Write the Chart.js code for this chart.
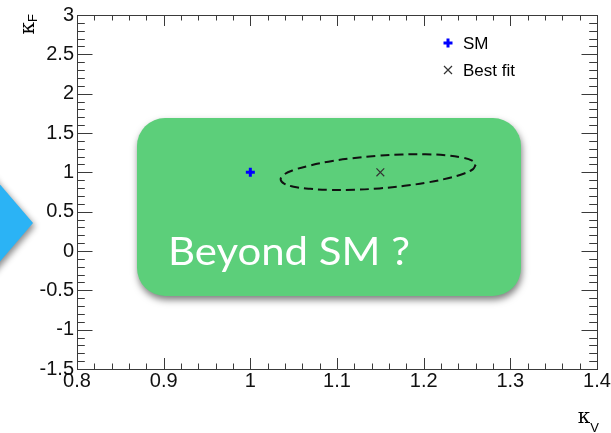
<!DOCTYPE html>
<html><head><meta charset="utf-8">
<script src="https://cdn.jsdelivr.net/npm/chart.js@4"></script>
<style>html,body{margin:0;padding:0;background:#fff;}canvas{display:block}</style>
</head><body>
<canvas id="c" width="611" height="433"></canvas>
<script>
// ---- data ----
const xTicks = [0.8, 0.9, 1.0, 1.1, 1.2, 1.3, 1.4];
const yTicks = [-1.5, -1, -0.5, 0, 0.5, 1, 1.5, 2, 2.5, 3];
const xMinorStep = 0.02;
const yMinorStep = 0.1;
const smX = [1.0];
const smY = [1.0];
const bestX = [1.15];
const bestY = [1.0];
const contourX = [1.260,1.257,1.246,1.228,1.205,1.178,1.149,1.120,1.092,1.069,1.050,1.039,1.035,1.038,1.049,1.067,1.090,1.117,1.146,1.175,1.202,1.226,1.244,1.256,1.260];
const contourY = [1.098,1.041,0.982,0.925,0.872,0.829,0.796,0.779,0.777,0.790,0.817,0.858,0.908,0.965,1.025,1.082,1.135,1.178,1.210,1.227,1.229,1.217,1.189,1.149,1.098];
const legendLabels = ['SM', 'Best fit'];
const xTitle = ['κ', 'V'];
const yTitle = ['κ', 'F'];
const boxText = 'Beyond SM ?';

const zip = (xs, ys) => xs.map((x, i) => ({x: x, y: ys[i]}));
const fmt = v => String(Math.round(v * 1000) / 1000);
const AX = '#3a3a3a';
const LAB = '"Liberation Sans", Arial, sans-serif';

const decor = {
  id: 'decor',
  beforeDraw(chart) {
    const ctx = chart.ctx;
    ctx.save();
    ctx.fillStyle = '#fff';
    ctx.fillRect(0, 0, chart.width, chart.height);
    // blue arrow at left edge
    ctx.shadowColor = 'rgba(0,0,0,0.45)';
    ctx.shadowBlur = 6; ctx.shadowOffsetX = 2; ctx.shadowOffsetY = 3;
    ctx.fillStyle = '#2bb3f5';
    ctx.beginPath();
    ctx.moveTo(-20, 161); ctx.lineTo(33, 223); ctx.lineTo(-20, 285);
    ctx.closePath(); ctx.fill();
    ctx.restore();
  },
  beforeDatasetsDraw(chart) {
    const ctx = chart.ctx, xs = chart.scales.x, ys = chart.scales.y;
    const a = chart.chartArea;
    ctx.save();
    ctx.strokeStyle = AX; ctx.lineWidth = 1;
    ctx.beginPath();
    const xSpan = xTicks[xTicks.length - 1] - xTicks[0];
    const nx = Math.round(xSpan / xMinorStep);
    for (let i = 0; i <= nx; i++) {
      const v = xTicks[0] + i * xMinorStep;
      const major = i % 5 === 0;
      const L = major ? 11 : 5.5;
      const px = Math.round(xs.getPixelForValue(v)) + 0.5;
      ctx.moveTo(px, a.bottom); ctx.lineTo(px, a.bottom - L);
      ctx.moveTo(px, a.top); ctx.lineTo(px, a.top + L);
    }
    const ySpan = yTicks[yTicks.length - 1] - yTicks[0];
    const ny = Math.round(ySpan / yMinorStep);
    for (let i = 0; i <= ny; i++) {
      const v = yTicks[0] + i * yMinorStep;
      const major = i % 5 === 0;
      const L = major ? 15.5 : 7.8;
      const py = Math.round(ys.getPixelForValue(v)) + 0.5;
      ctx.moveTo(a.left, py); ctx.lineTo(a.left + L, py);
      ctx.moveTo(a.right, py); ctx.lineTo(a.right - L, py);
    }
    ctx.stroke();
    ctx.restore();

    // green overlay box
    ctx.save();
    ctx.shadowColor = 'rgba(0,0,0,0.5)';
    ctx.shadowBlur = 7; ctx.shadowOffsetX = 1; ctx.shadowOffsetY = 4;
    ctx.fillStyle = '#5ccf7a';
    ctx.beginPath();
    ctx.roundRect(137, 118, 384, 178, 28);
    ctx.fill();
    ctx.restore();
    ctx.save();
    ctx.fillStyle = '#ffffff';
    ctx.font = '38px Lato';
    ctx.textBaseline = 'alphabetic';
    const w = ctx.measureText(boxText).width;
    ctx.translate(168, 265);
    ctx.scale(242 / w, 1);
    ctx.fillText(boxText, 0, 0);
    ctx.restore();
  },
  afterDraw(chart) {
    const ctx = chart.ctx;
    const sm = chart.data.datasets[0], bf = chart.data.datasets[1];
    ctx.save();
    // legend markers
    ctx.strokeStyle = sm.borderColor; ctx.lineWidth = 3;
    ctx.beginPath(); ctx.moveTo(443.5, 43); ctx.lineTo(452.5, 43); ctx.moveTo(448, 38.5); ctx.lineTo(448, 47.5); ctx.stroke();
    ctx.strokeStyle = bf.borderColor; ctx.lineWidth = 1.2;
    ctx.beginPath(); ctx.moveTo(444, 66); ctx.lineTo(452, 74); ctx.moveTo(452, 66); ctx.lineTo(444, 74); ctx.stroke();
    ctx.fillStyle = '#000';
    ctx.font = '17px ' + LAB;
    ctx.textBaseline = 'middle';
    ctx.fillText(legendLabels[0], 463, 44);
    ctx.fillText(legendLabels[1], 463, 71);
    // axis titles
    ctx.textBaseline = 'alphabetic';
    ctx.font = '20px "DejaVu Serif"';
    const kw = ctx.measureText(xTitle[0]).width;
    ctx.font = '13px ' + LAB;
    const vw = ctx.measureText(xTitle[1]).width;
    const xr = 599;
    ctx.font = '20px "DejaVu Serif"';
    ctx.fillText(xTitle[0], xr - vw - kw, 423);
    ctx.font = '13px ' + LAB;
    ctx.fillText(xTitle[1], xr - vw, 432);
    // y title rotated
    ctx.translate(34, 14);
    ctx.rotate(-Math.PI / 2);
    ctx.font = '13px ' + LAB;
    const fw = ctx.measureText(yTitle[1]).width;
    ctx.font = '20px "DejaVu Serif"';
    const kw2 = ctx.measureText(yTitle[0]).width;
    ctx.fillText(yTitle[0], -fw - kw2, 0);
    ctx.font = '13px ' + LAB;
    ctx.fillText(yTitle[1], -fw, 3);
    ctx.restore();
  }
};

const hiddenAxis = (pos, size) => ({
  type: 'linear', position: pos,
  min: pos === 'top' ? xTicks[0] : yTicks[0],
  max: pos === 'top' ? xTicks[xTicks.length - 1] : yTicks[yTicks.length - 1],
  grid: {display: false, drawTicks: false},
  border: {display: true, color: AX, width: 1},
  ticks: {display: false},
  afterFit: s => { if (pos === 'top') s.height = size; else s.width = size; }
});

new Chart(document.getElementById('c'), {
  type: 'scatter',
  data: {
    datasets: [
      {label: legendLabels[0], data: zip(smX, smY), pointStyle: 'cross', radius: 4.5, borderWidth: 3,
       borderColor: '#0000ff', backgroundColor: '#0000ff'},
      {label: legendLabels[1], data: zip(bestX, bestY), pointStyle: 'crossRot', radius: 5.5, borderWidth: 1.2,
       borderColor: '#333333', backgroundColor: '#333333'},
      {label: 'contour', data: zip(contourX, contourY), showLine: true, pointRadius: 0, borderWidth: 2,
       borderDash: [9, 5], borderColor: '#111111', tension: 0.4, fill: false}
    ]
  },
  options: {
    responsive: false, animation: false, devicePixelRatio: 1,
    layout: {padding: 0},
    plugins: {legend: {display: false}, tooltip: {enabled: false}},
    scales: {
      x: {
        type: 'linear', position: 'bottom', min: xTicks[0], max: xTicks[xTicks.length - 1],
        afterBuildTicks: s => { s.ticks = xTicks.map(v => ({value: v})); },
        ticks: {autoSkip: false, maxRotation: 0, padding: 0, color: '#111',
                font: {family: 'Liberation Sans', size: 20}, callback: v => fmt(v)},
        grid: {display: false, drawTicks: false},
        border: {display: true, color: AX, width: 1},
        afterFit: s => { s.height = 64; }
      },
      y: {
        type: 'linear', position: 'left', min: yTicks[0], max: yTicks[yTicks.length - 1],
        afterBuildTicks: s => { s.ticks = yTicks.map(v => ({value: v})); },
        ticks: {autoSkip: false, padding: 3, color: '#111',
                font: {family: 'Liberation Sans', size: 20}, callback: v => fmt(v)},
        grid: {display: false, drawTicks: false},
        border: {display: true, color: AX, width: 1},
        afterFit: s => { s.width = 77; }
      },
      x2: hiddenAxis('top', 13),
      y2: hiddenAxis('right', 14)
    }
  },
  plugins: [decor]
});
</script>
</body></html>
